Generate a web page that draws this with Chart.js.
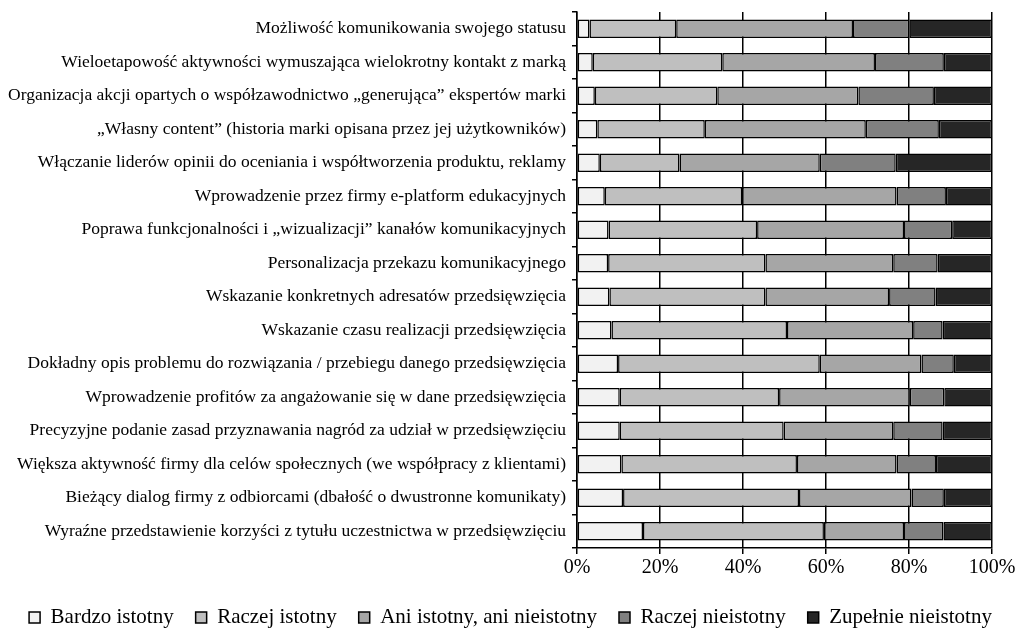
<!DOCTYPE html>
<html>
<head>
<meta charset="utf-8">
<script src="https://cdn.jsdelivr.net/npm/chart.js@4/dist/chart.umd.min.js"></script>
<style>
  html, body { margin: 0; padding: 0; background: #fff; }
  #wrap { width: 1021px; height: 633px; }
</style>
</head>
<body>
<div id="wrap"><canvas id="chart"></canvas></div>
<script>
const categories = [
  'Możliwość komunikowania swojego statusu',
  'Wieloetapowość aktywności wymuszająca wielokrotny kontakt z marką',
  'Organizacja akcji opartych o współzawodnictwo „generująca” ekspertów marki',
  '„Własny content” (historia marki opisana przez jej użytkowników)',
  'Włączanie liderów opinii do oceniania i współtworzenia produktu, reklamy',
  'Wprowadzenie przez firmy e-platform edukacyjnych',
  'Poprawa funkcjonalności i „wizualizacji” kanałów komunikacyjnych',
  'Personalizacja przekazu komunikacyjnego',
  'Wskazanie konkretnych adresatów przedsięwzięcia',
  'Wskazanie czasu realizacji przedsięwzięcia',
  'Dokładny opis problemu do rozwiązania / przebiegu danego przedsięwzięcia',
  'Wprowadzenie profitów za angażowanie się w dane przedsięwzięcia',
  'Precyzyjne podanie zasad przyznawania nagród za udział w przedsięwzięciu',
  'Większa aktywność firmy dla celów społecznych (we współpracy z klientami)',
  'Bieżący dialog firmy z odbiorcami (dbałość o dwustronne komunikaty)',
  'Wyraźne przedstawienie korzyści z tytułu uczestnictwa w przedsięwzięciu'
];

const bardzoIstotny    = [3.0, 3.8, 4.3, 4.9, 5.5, 6.7, 7.6, 7.5, 7.8, 8.3, 9.9, 10.3, 10.3, 10.7, 11.1, 15.9];
const raczejIstotny    = [20.9, 31.2, 29.5, 25.9, 19.2, 33.1, 35.8, 37.9, 37.6, 42.3, 48.6, 38.4, 39.5, 42.3, 42.4, 43.6];
const aniAni           = [42.6, 36.8, 34.0, 38.8, 33.8, 37.2, 35.4, 30.8, 29.8, 30.4, 24.5, 31.5, 26.4, 24.0, 27.1, 19.3];
const raczejNieistotny = [13.6, 16.6, 18.2, 17.6, 18.3, 11.9, 11.6, 10.7, 11.2, 7.1, 7.8, 8.3, 11.9, 9.5, 7.8, 9.5];
const zupelnie         = [19.9, 11.6, 14.0, 12.8, 23.2, 11.1, 9.6, 13.1, 13.6, 11.9, 9.2, 11.5, 11.9, 13.5, 11.6, 11.7];

const seriesNames = ['Bardzo istotny', 'Raczej istotny', 'Ani istotny, ani nieistotny', 'Raczej nieistotny', 'Zupełnie nieistotny'];
const seriesData = [bardzoIstotny, raczejIstotny, aniAni, raczejNieistotny, zupelnie];
const seriesColors = ['#f2f2f2', '#bfbfbf', '#a6a6a6', '#808080', '#262626'];

const xTicks = [0, 20, 40, 60, 80, 100];

const serif = '"Liberation Serif", "Times New Roman", serif';

// pin the legend height so the plot area keeps its place
const legendHeight = {
  id: 'legendHeight',
  beforeInit(chart) {
    const fit = chart.legend.fit;
    chart.legend.fit = function() {
      fit.call(this);
      this.height = 48;
    };
  }
};

new Chart(document.getElementById('chart'), {
  type: 'bar',
  data: {
    labels: categories,
    datasets: seriesData.map((d, i) => ({
      label: seriesNames[i],
      data: d,
      backgroundColor: seriesColors[i],
      borderColor: '#000',
      borderWidth: 1.5,
      borderSkipped: false,
      barPercentage: 0.55,
      categoryPercentage: 1
    }))
  },
  options: {
    indexAxis: 'y',
    responsive: true,
    maintainAspectRatio: false,
    animation: false,
    layout: { padding: { top: 12, right: 0, left: 0, bottom: 0 } },
    scales: {
      x: {
        stacked: true,
        min: 0,
        max: 100,
        afterBuildTicks: scale => { scale.ticks = xTicks.map(v => ({ value: v })); },
        afterFit: scale => { scale.height = 37; scale.paddingRight = 29; },
        grid: { color: '#000', lineWidth: 1.5, tickLength: 6 },
        border: { color: '#000', width: 1.5 },
        ticks: {
          color: '#000',
          font: { family: serif, size: 20 },
          padding: 2,
          callback: v => v + '%'
        }
      },
      y: {
        stacked: true,
        afterFit: scale => { scale.width = 577; scale.paddingTop = 0; scale.paddingBottom = 0; },
        grid: { color: '#000', lineWidth: 1.5, drawOnChartArea: false, tickLength: 5 },
        border: { color: '#000', width: 1.5 },
        ticks: {
          color: '#000',
          font: { family: serif, size: 17.5 },
          padding: 6,
          autoSkip: false
        }
      }
    },
    plugins: {
      tooltip: { enabled: false },
      legend: {
        position: 'bottom',
        labels: {
          color: '#000',
          font: { family: serif, size: 21 },
          boxWidth: 11,
          boxHeight: 11,
          padding: 22,
          useBorderRadius: false
        }
      }
    }
  },
  plugins: [legendHeight]
});
</script>
</body>
</html>
